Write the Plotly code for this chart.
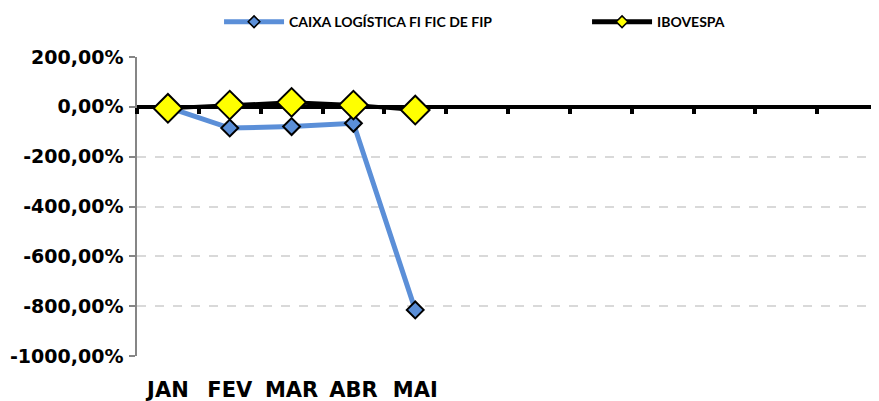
import plotly.graph_objects as go

months = ["JAN", "FEV", "MAR", "ABR", "MAI", "JUN", "JUL", "AGO", "SET", "OUT", "NOV", "DEZ"]
shown_labels = ["JAN", "FEV", "MAR", "ABR", "MAI"]
caixa = [-2, -85, -79, -66, -815]
ibovespa = [-6, 7, 18, 7, -13]
y_ticks = [200, 0, -200, -400, -600, -800, -1000]

def fmt(v):
    return f"{v:.2f}".replace(".", ",") + "%"

BLUE = "#5B8FD8"
x_idx = list(range(len(months)))
fig = go.Figure()
fig.add_trace(go.Scatter(
    x=x_idx[:len(caixa)], y=caixa, name="CAIXA LOGÍSTICA FI FIC DE FIP",
    mode="lines+markers", showlegend=False, legendgroup="a",
    line=dict(color=BLUE, width=5),
    marker=dict(symbol="diamond", size=13, color=BLUE, line=dict(color="black", width=2)),
))
fig.add_trace(go.Scatter(
    x=x_idx[:len(ibovespa)], y=ibovespa, name="IBOVESPA",
    mode="lines+markers", showlegend=False, legendgroup="b",
    line=dict(color="black", width=4),
    marker=dict(symbol="diamond", size=22, color="#FFFF00", line=dict(color="black", width=2)),
))
# legend entries with small symbols, as in the reference
fig.add_trace(go.Scatter(
    x=[None], y=[None], name="CAIXA LOGÍSTICA FI FIC DE FIP", legendgroup="a",
    mode="lines+markers", line=dict(color=BLUE, width=5),
    marker=dict(symbol="diamond", size=9, color=BLUE, line=dict(color="black", width=1.5)),
))
fig.add_trace(go.Scatter(
    x=[None], y=[None], name="IBOVESPA", legendgroup="b",
    mode="lines+markers", line=dict(color="black", width=5),
    marker=dict(symbol="diamond", size=9, color="#FFFF00", line=dict(color="black", width=1.5)),
))
# invisible trace to activate the second x axis (boundary ticks on the zero line)
fig.add_trace(go.Scatter(x=x_idx, y=[None]*len(x_idx), xaxis="x2", showlegend=False, hoverinfo="skip"))

ymin, ymax = -1000, 200
fig.update_layout(
    width=871, height=393,
    margin=dict(l=129, r=0, t=49, b=45, autoexpand=False),
    paper_bgcolor="white", plot_bgcolor="white",
    font=dict(family="DejaVu Sans", color="black"),
    xaxis=dict(
        range=[-0.5, 11.5],
        tickmode="array", tickvals=x_idx[:len(shown_labels)], ticktext=shown_labels,
        tickfont=dict(family="DejaVu Sans", size=21, color="black", weight="bold"),
        showgrid=False, zeroline=False, showline=False, ticks="",
        ticklabelstandoff=19,
    ),
    xaxis2=dict(
        range=[-0.5, 11.5], overlaying="x", anchor="free",
        position=(0 - ymin) / (ymax - ymin),
        tickmode="linear", tick0=0.5, dtick=1,
        ticks="outside", ticklen=6, tickwidth=4, tickcolor="black",
        showticklabels=False, showgrid=False, zeroline=False, showline=False,
    ),
    yaxis=dict(
        range=[ymin, ymax],
        tickmode="array", tickvals=y_ticks, ticktext=[fmt(v) for v in y_ticks],
        tickfont=dict(family="DejaVu Sans", size=19, color="black", weight="bold"),
        showgrid=True, gridcolor="#D9D9D9", gridwidth=1.5, griddash="dash",
        zeroline=True, zerolinecolor="black", zerolinewidth=4,
        showline=True, linecolor="#868686", linewidth=1.5,
        ticks="outside", ticklen=6, tickcolor="#868686", tickwidth=1.5,
        ticklabelstandoff=2,
    ),
    legend=dict(
        orientation="h", xref="container", yref="container",
        x=0.2423, y=0.964, xanchor="left", yanchor="middle",
        font=dict(family="Lato", size=14, color="black", weight="bold"),
        itemwidth=60, entrywidth=293, bgcolor="rgba(0,0,0,0)",
    ),
    showlegend=True,
)
fig.write_html("out.html")
